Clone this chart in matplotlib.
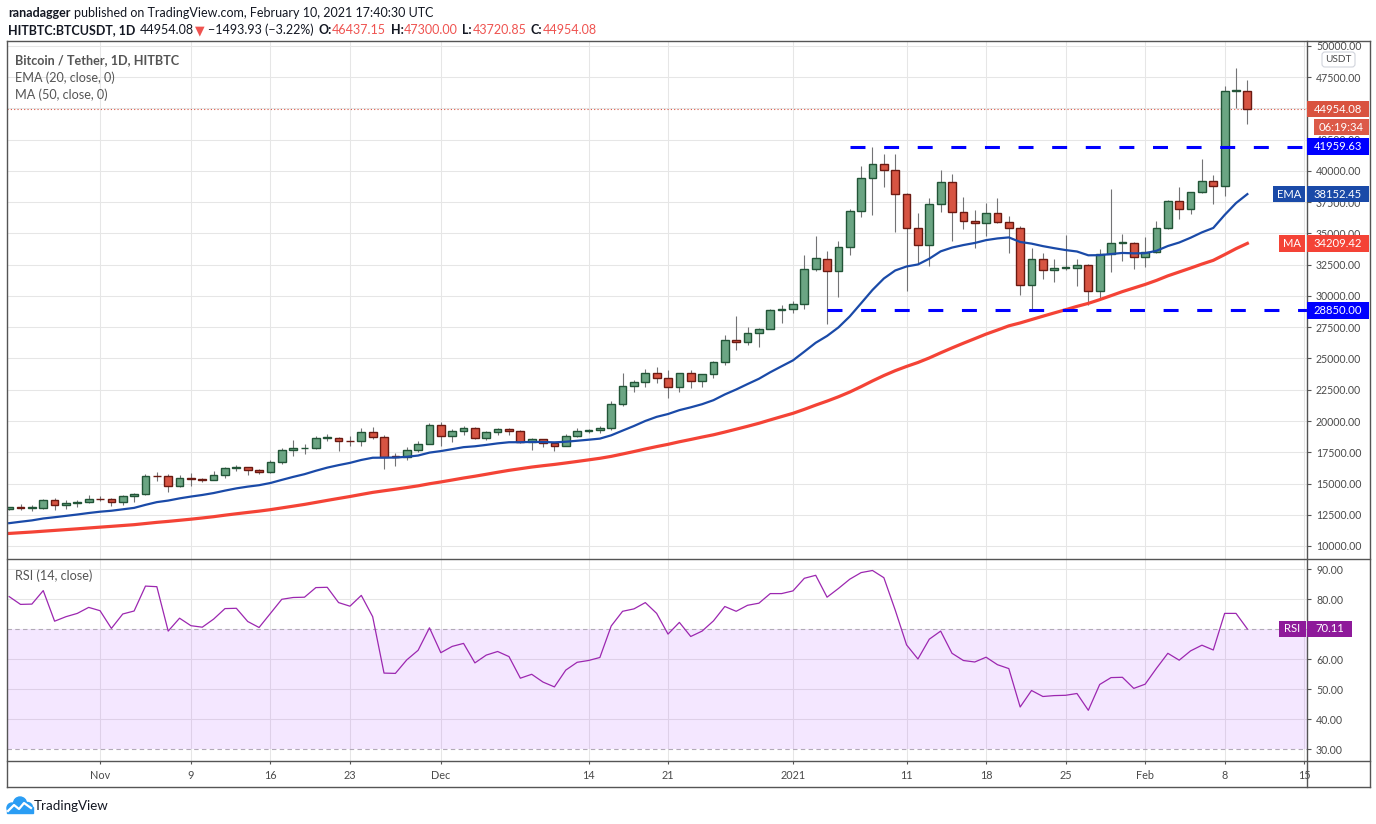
import numpy as np
import pandas as pd
import matplotlib
matplotlib.use("Agg")
import matplotlib.pyplot as plt
import matplotlib.dates as mdates
from matplotlib.patches import Rectangle, FancyBboxPatch, Circle
from matplotlib.lines import Line2D
from matplotlib.transforms import IdentityTransform

plt.rcParams['font.family'] = ['Lato', 'DejaVu Sans']

# daily candles, HITBTC BTC/USDT, 24 Oct 2020 -> 10 Feb 2021
first_day = '2020-10-24'
open_ = [12931, 13108, 13031, 13068, 13654, 13271, 13437, 13546, 13780, 13737,
         13550, 14024, 14146, 15590, 15579, 14818, 15475, 15328, 15297, 15701,
         16276, 16317, 16069, 15955, 16716, 17645, 17804, 17817, 18621, 18642,
         18370, 18364, 19107, 18732, 17150, 17139, 17719, 18185, 19695, 18764,
         19204, 19421, 18650, 19147, 19359, 19166, 18324, 18541, 18254, 18036,
         18808, 19175, 19273, 19427, 21380, 22808, 23107, 23822, 23455, 22719,
         23810, 23232, 23730, 24712, 26493, 26281, 27079, 27385, 28875, 28923,
         29331, 32176, 33000, 31989, 33950, 36769, 39432, 40586, 40088, 38150,
         35410, 34049, 37371, 39145, 36737, 35994, 35824, 36622, 35901, 35468,
         30851, 32950, 32078, 32230, 32254, 32464, 30366, 33368, 34246, 34262,
         33093, 33517, 35472, 37620, 36936, 38289, 39181, 38795, 46374, 46437.15]
high = [13145, 13350, 13242, 13788, 13863, 13642, 13681, 14100, 13973, 13830,
        14066, 14259, 15750, 15960, 15766, 15650, 15840, 15480, 15970, 16340,
        16480, 16326, 16140, 16890, 17858, 18476, 18179, 18815, 18965, 18750,
        18770, 19418, 19484, 18916, 17457, 17880, 18360, 19864, 19888, 19342,
        19598, 19527, 19177, 19420, 19420, 19294, 18639, 18557, 18292, 18948,
        19411, 19349, 19570, 21560, 23800, 23282, 24171, 24295, 24102, 23837,
        24100, 23794, 24789, 26867, 28422, 27500, 27410, 28996, 29300, 29600,
        33300, 34778, 33600, 34360, 36939, 40365, 41950, 41380, 41350, 38264,
        36628, 37850, 40100, 39747, 37950, 36852, 37469, 37850, 36415, 35600,
        33826, 33456, 32944, 34882, 32921, 32557, 33783, 38531, 34933, 34342,
        34717, 35984, 37662, 38708, 38310, 40955, 39700, 46794, 48200, 47300.00]
low = [12885, 12888, 12765, 13000, 12900, 12950, 13125, 13420, 13580, 13200,
       13290, 13525, 14093, 15166, 14344, 14703, 14805, 15100, 15272, 15440,
       15965, 15715, 15793, 15870, 16528, 17214, 17335, 17740, 18414, 17610,
       18000, 18018, 18565, 16188, 16438, 16865, 17517, 18184, 18001, 18330,
       18867, 18565, 18500, 18857, 18902, 18200, 17650, 17911, 17572, 18020,
       18711, 19000, 19050, 19278, 21230, 22350, 22750, 23060, 21815, 22353,
       22600, 22703, 23433, 24500, 25700, 26101, 25880, 27320, 27850, 28624,
       28946, 31962, 27734, 29900, 33288, 36300, 36500, 38720, 35111, 30420,
       32531, 32380, 36701, 34408, 35357, 33850, 34800, 35844, 33400, 30071,
       28850, 31390, 31106, 32050, 30837, 29241, 29842, 31915, 32825, 32171,
       32296, 33418, 35362, 36161, 36570, 38215, 37351, 37988, 45000, 43720.85]
close = [13108, 13031, 13068, 13654, 13271, 13437, 13546, 13780, 13737, 13550,
         14024, 14146, 15590, 15579, 14818, 15475, 15328, 15297, 15701, 16276,
         16317, 16069, 15955, 16716, 17645, 17804, 17817, 18621, 18642, 18370,
         18364, 19107, 18732, 17150, 17139, 17719, 18185, 19695, 18764, 19204,
         19421, 18650, 19147, 19359, 19166, 18324, 18541, 18254, 18036, 18808,
         19175, 19273, 19427, 21380, 22808, 23107, 23822, 23455, 22719, 23810,
         23232, 23730, 24712, 26493, 26281, 27079, 27385, 28875, 28923, 29331,
         32178, 33000, 31988, 33949, 36769, 39432, 40582, 40088, 38150, 35404,
         34051, 37371, 39144, 36742, 35994, 35828, 36631, 35891, 35468, 30850,
         32945, 32078, 32259, 32254, 32467, 30366, 33364, 34252, 34262, 33092,
         33526, 35466, 37618, 36936, 38290, 39186, 38795, 46374, 46448.01, 44954.08]

# closes before the visible window (5 Sep -> 23 Oct) so the averages have history
warmup_close = [10170, 10280, 10375, 10130, 10240, 10370, 10400, 10440, 10330, 10680,
                10790, 10960, 10950, 10940, 11080, 10920, 10420, 10540, 10240, 10740,
                10690, 10730, 10775, 10700, 10840, 10780, 10620, 10570, 10550, 10670,
                10790, 10600, 10670, 10930, 11050, 11300, 11380, 11540, 11430, 11430,
                11500, 11320, 11370, 11510, 11750, 11915, 12820, 12990, 12930]

rsi = [80.9, 78.3, 78.4, 82.9, 72.7, 74.2, 75.3, 77.3, 76.2, 70.3,
       75.1, 76.1, 84.4, 84.2, 69.4, 73.7, 71.2, 70.7, 73.4, 76.9,
       77.0, 72.6, 70.6, 75.3, 80.0, 80.6, 80.7, 83.9, 84.0, 78.9,
       77.7, 81.3, 74.2, 55.4, 55.3, 59.8, 63.0, 70.5, 62.2, 64.3,
       65.3, 58.8, 61.4, 62.6, 60.9, 53.7, 55.0, 52.4, 50.8, 56.4,
       59.0, 59.6, 60.6, 71.1, 76.0, 76.8, 78.9, 75.3, 68.4, 72.3,
       67.6, 69.4, 72.8, 77.6, 76.0, 78.0, 78.7, 81.9, 81.9, 82.8,
       87.0, 88.0, 80.7, 83.6, 86.7, 88.9, 89.6, 87.2, 76.4, 64.8,
       60.1, 66.7, 69.4, 62.0, 59.6, 59.1, 60.7, 58.2, 56.9, 44.1,
       49.6, 47.6, 47.9, 48.0, 48.6, 43.0, 51.6, 53.9, 54.0, 50.3,
       51.7, 57.0, 62.0, 59.7, 62.8, 64.7, 63.1, 75.3, 75.3, 70.11]

# last indicator values as printed on the price scale
ema_last = 38152.45
ma_last = 34209.42

# horizontal levels drawn on the chart
level_values = [41959.63, 28850.00]
level_start = ['2021-01-06', '2021-01-04']

tick_dates = ['2020-11-01', '2020-11-09', '2020-11-16', '2020-11-23', '2020-12-01',
              '2020-12-14', '2020-12-21', '2021-01-01', '2021-01-11', '2021-01-18',
              '2021-01-25', '2021-02-01', '2021-02-08', '2021-02-15']
tick_labels = ['Nov', '9', '16', '23', 'Dec', '14', '21', '2021', '11', '18', '25',
               'Feb', '8', '15']
price_ticks = np.arange(10000, 50001, 2500)
rsi_ticks = [30, 40, 50, 60, 70, 80, 90]

# colours
UP, UP_EDGE = '#6ba583', '#225437'
DOWN, DOWN_EDGE = '#d75442', '#6b1a12'
WICK = '#737375'
EMA_C = '#1a4aa8'
MA_C = '#f44336'
LEVEL_C = '#0000ff'
RSI_C = '#9c27b0'
RSI_BOX = '#8e1a9a'
GRID = '#e6e6e6'
TEXT = '#131722'
AXTEXT = '#4a4a4a'
BORDER = '#555555'

W, H = 1376, 824
LEFT, PANE_R, RIGHT = 7, 1307, 1370
TOP, SPLIT, TIME_TOP, BOTTOM = 41, 559, 761, 787


def fig_rect(x0, y0, x1, y1):
    return [x0 / W, 1 - y1 / H, (x1 - x0) / W, (y1 - y0) / H]


o = np.array(open_, float)
h = np.array(high, float)
l = np.array(low, float)
c = np.array(close, float)
dates = pd.date_range(first_day, periods=len(c), freq='D')
x = mdates.date2num(dates)

all_close = pd.Series(warmup_close + close, dtype=float)
n_warm = len(warmup_close)
ema20 = all_close.ewm(span=20, adjust=False).mean().values[n_warm:]
ma50 = all_close.rolling(50).mean().values[n_warm:]

fig = plt.figure(figsize=(W / 100, H / 100), dpi=100)
fig.patch.set_facecolor('white')
ax = fig.add_axes(fig_rect(LEFT, TOP, PANE_R, SPLIT))
rax = fig.add_axes(fig_rect(LEFT, SPLIT, PANE_R, TIME_TOP), sharex=ax)

# ---- price pane
ax.vlines(x, l, h, color=WICK, lw=0.8, zorder=2)
up = c >= o
body_low = np.minimum(o, c)
body_h = np.maximum(np.abs(c - o), 60)
ax.bar(x[up], body_h[up], bottom=body_low[up], width=0.68, color=UP,
       edgecolor=UP_EDGE, lw=1.0, zorder=3)
ax.bar(x[~up], body_h[~up], bottom=body_low[~up], width=0.68, color=DOWN,
       edgecolor=DOWN_EDGE, lw=1.0, zorder=3)
ax.plot(x, ema20, color=EMA_C, lw=1.6, zorder=4)
ax.plot(x, ma50, color=MA_C, lw=2.3, zorder=4)

x_left = x[0] - 0.19
x_right = x[0] + 114.25
for lvl, start in zip(level_values, level_start):
    ax.hlines(lvl, mdates.date2num(pd.Timestamp(start)), x_right, color=LEVEL_C,
              lw=2.2, linestyles=(0, (4.9, 6.1)), zorder=5)
ax.axhline(c[-1], color=DOWN, lw=0.8, ls=(0, (1, 2)), zorder=1)

ax.set_xlim(x_left, x_right)
ax.set_ylim(8960, 50400)
ax.set_yticks(price_ticks)
ax.set_yticklabels(['%.2f' % v for v in price_ticks])
ax.yaxis.tick_right()
ax.tick_params(axis='y', direction='out', length=3, width=0.8, color=BORDER, pad=3.5,
               labelsize=7.6, labelcolor=AXTEXT)
ax.tick_params(axis='x', length=0, labelbottom=False)
ax.grid(True, color=GRID, lw=0.75)
ax.set_axisbelow(True)
for s in ax.spines.values():
    s.set_visible(False)

ax.text(8 / 1300, 1 - 19 / 518, 'Bitcoin / Tether, 1D, HITBTC', transform=ax.transAxes,
        fontsize=9.1, fontweight='bold', color='#555555', va='center')
ax.text(8 / 1300, 1 - 37 / 518, 'EMA (20, close, 0)', transform=ax.transAxes,
        fontsize=9.1, color='#555555', va='center')
ax.text(8 / 1300, 1 - 54 / 518, 'MA (50, close, 0)', transform=ax.transAxes,
        fontsize=9.1, color='#555555', va='center')

# ---- RSI pane
rax.axhspan(30, 70, color='#9915ff', alpha=0.1, lw=0, zorder=1)
for v in rsi_ticks:
    if v in (30, 70):
        rax.axhline(v, color='#b2aab7', lw=0.8, ls=(0, (4, 3)), zorder=2)
    else:
        rax.axhline(v, color=GRID, lw=0.75, zorder=0)
rax.plot(x, rsi, color=RSI_C, lw=0.9, zorder=3)
rax.set_ylim(26.1, 93.43)
rax.set_yticks(rsi_ticks)
rax.set_yticklabels(['%.2f' % v for v in rsi_ticks])
rax.yaxis.tick_right()
rax.tick_params(axis='y', direction='out', length=3, width=0.8, color=BORDER, pad=3.5,
                labelsize=7.6, labelcolor=AXTEXT)
rax.set_xticks(mdates.date2num(pd.to_datetime(tick_dates)))
rax.set_xticklabels(tick_labels)
rax.tick_params(axis='x', direction='out', length=2.5, width=0.8, color=BORDER, pad=4,
                labelsize=7.8, labelcolor=AXTEXT)
rax.grid(True, axis='x', color=GRID, lw=0.75)
rax.set_axisbelow(True)
for s in rax.spines.values():
    s.set_visible(False)
rax.text(8 / 1300, 1 - 17 / 202, 'RSI (14, close)', transform=rax.transAxes,
         fontsize=9.1, color='#555555', va='center')

# ---- frame lines (pixel coords, y from top)
def hline_px(y, x0, x1, lw=1.0, color=BORDER):
    fig.add_artist(Line2D([x0, x1], [H - y, H - y], transform=IdentityTransform(),
                          color=color, lw=lw))


def vline_px(xp, y0, y1, lw=1.0, color=BORDER):
    fig.add_artist(Line2D([xp, xp], [H - y0, H - y1], transform=IdentityTransform(),
                          color=color, lw=lw))


hline_px(TOP, LEFT, RIGHT)
hline_px(SPLIT, LEFT, RIGHT)
hline_px(TIME_TOP, LEFT, RIGHT)
hline_px(BOTTOM, LEFT, RIGHT)
vline_px(LEFT, TOP, BOTTOM)
vline_px(PANE_R, TOP, BOTTOM)
vline_px(RIGHT, TOP, BOTTOM)


# ---- value boxes on the price scale
def box(axis, value, text, color, x0=PANE_R, x1=RIGHT - 1, dy=0, hgt=16.5, fs=8.1):
    yd = axis.transData.transform((x[0], value))[1] - dy
    fig.add_artist(Rectangle((x0, yd - hgt / 2), x1 - x0, hgt, transform=IdentityTransform(),
                             facecolor=color, edgecolor='none', zorder=5))
    fig.text((x0 + x1) / 2, yd, text, transform=IdentityTransform(), color='white',
             fontsize=fs, ha='center', va='center', zorder=6)


box(ax, c[-1], '%.2f' % c[-1], '#d9533f')
box(ax, c[-1], '06:19:34', '#dc5a48', x0=PANE_R + 7, dy=18)
box(ax, level_values[0], '%.2f' % level_values[0], LEVEL_C)
box(ax, level_values[1], '%.2f' % level_values[1], LEVEL_C)
box(ax, ema_last, '%.2f' % ema_last, EMA_C)
box(ax, ema_last, 'EMA', EMA_C, x0=1273, x1=PANE_R - 2)
box(ax, ma_last, '%.2f' % ma_last, MA_C)
box(ax, ma_last, 'MA', MA_C, x0=1279, x1=PANE_R - 2)
box(rax, rsi[-1], '%.2f' % rsi[-1], RSI_BOX, x1=1352)
box(rax, rsi[-1], 'RSI', RSI_BOX, x0=1279, x1=PANE_R - 1)

fig.add_artist(FancyBboxPatch((1322, H - 67), 33, 15, boxstyle='round,pad=0,rounding_size=3',
                              transform=IdentityTransform(), facecolor='white',
                              edgecolor='#d1d4dc', lw=0.8, zorder=5))
fig.text(1338.5, H - 59.5, 'USDT', transform=IdentityTransform(), fontsize=7.2,
         color=AXTEXT, ha='center', va='center', zorder=6)

# ---- header
renderer = fig.canvas.get_renderer()


def rich(x0, y, parts, fs):
    xp = x0
    for s, color, weight, gap in parts:
        t = fig.text(xp, H - y, s, transform=IdentityTransform(), color=color,
                     fontsize=fs, fontweight=weight, va='center', ha='left')
        xp += t.get_window_extent(renderer).width + gap


RED = '#ef5350'
rich(8, 13, [('ranadagger', TEXT, 'bold', 3.8),
             ('published on TradingView.com, February 10, 2021 17:40:30 UTC', TEXT, 'normal', 0)],
     9.0)
rich(8, 30, [('HITBTC:BTCUSDT, 1D', TEXT, 'bold', 4.5),
             ('44954.08', TEXT, 'normal', 1),
             ('\u25bc', RED, 'normal', 3.5),
             ('\u22121493.93 (\u22123.22%)', TEXT, 'normal', 4.5),
             ('O:', TEXT, 'bold', 0.5), ('46437.15', RED, 'normal', 4.5),
             ('H:', TEXT, 'bold', 0.5), ('47300.00', RED, 'normal', 4.5),
             ('L:', TEXT, 'bold', 0.5), ('43720.85', RED, 'normal', 4.5),
             ('C:', TEXT, 'bold', 0.5), ('44954.08', RED, 'normal', 0)],
     9.0)

# ---- TradingView logo
LOGO = '#2a9df4'
for cx, cy, r in [(12, 808, 5), (20, 803.5, 6.5), (27.5, 807.5, 5)]:
    fig.add_artist(Circle((cx, H - cy), r, transform=IdentityTransform(), color=LOGO, zorder=5))
fig.add_artist(Rectangle((7, H - 813), 26, 6, transform=IdentityTransform(), color=LOGO, zorder=5))
fig.add_artist(Line2D([8, 14, 19, 24, 31], [H - 811, H - 805, H - 809, H - 803, H - 808],
                      transform=IdentityTransform(), color='white', lw=1.6, zorder=6))
fig.text(34, H - 806, 'TradingView', transform=IdentityTransform(), fontsize=9.6,
         color=TEXT, va='center', ha='left')

fig.savefig('out.png', dpi=100)
